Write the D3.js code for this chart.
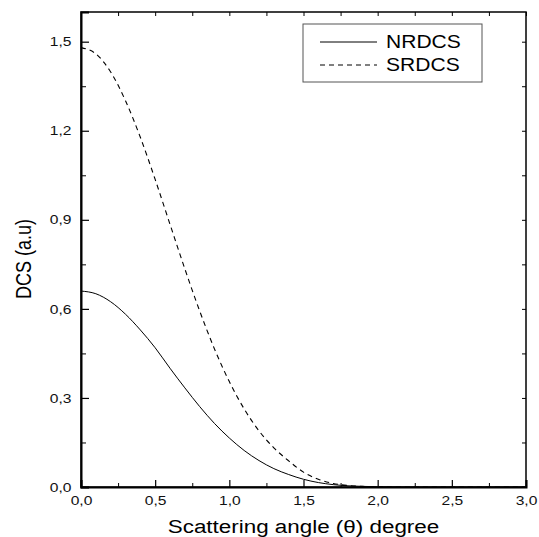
<!DOCTYPE html>
<html>
<head>
<meta charset="utf-8">
<script src="https://cdn.jsdelivr.net/npm/d3@7"></script>
<style>
  body { margin: 0; background: #fff; }
  svg { font-family: "Liberation Sans", Arial, sans-serif; }
</style>
</head>
<body>
<div id="chart"></div>
<script>
// scattering angle (degree)
const angles = [0.0, 0.1, 0.2, 0.3, 0.4, 0.5, 0.6, 0.7, 0.8, 0.9, 1.0,
  1.1, 1.2, 1.3, 1.4, 1.5, 1.6, 1.7, 1.8, 1.9, 2.0,
  2.2, 2.4, 2.6, 2.8, 3.0];
// non relativistic DCS
const nrdcs = [0.660, 0.651, 0.624, 0.582, 0.529, 0.469, 0.400, 0.334, 0.271, 0.214, 0.165,
  0.123, 0.089, 0.062, 0.042, 0.026, 0.015, 0.008, 0.004, 0.002, 0.001,
  0, 0, 0, 0, 0];
// relativistic DCS
const srdcs = [1.480, 1.459, 1.398, 1.301, 1.178, 1.036, 0.885, 0.735, 0.593, 0.465, 0.355,
  0.263, 0.189, 0.132, 0.088, 0.050, 0.026, 0.012, 0.005, 0.002, 0.0005,
  0, 0, 0, 0, 0];
const xTicks = [0, 0.5, 1.0, 1.5, 2.0, 2.5, 3.0];
const yTicks = [0, 0.3, 0.6, 0.9, 1.2, 1.5];
const seriesNames = ["NRDCS", "SRDCS"];

const width = 539, height = 537;
const margin = { top: 12, right: 13, bottom: 50, left: 81 };
const stretch = 1.2; // the original text is a bit wide
const fmt = d => d3.format(".1f")(d).replace(".", ",");

const svg = d3.select("#chart")
  .append("svg")
  .attr("width", width)
  .attr("height", height);

const x = d3.scaleLinear().domain([0, 3]).range([margin.left, width - margin.right]);
const y = d3.scaleLinear().domain([0, 1.6]).range([height - margin.bottom, margin.top]);

// frame (top / right)
svg.append("rect")
  .attr("x", x(0)).attr("y", y(1.6))
  .attr("width", x(3) - x(0)).attr("height", y(0) - y(1.6))
  .attr("fill", "none").attr("stroke", "#000").attr("stroke-width", 1.5);

// minor ticks
const xMinor = d3.range(0.25, 3, 0.5);
const yMinor = d3.range(0.15, 1.6, 0.3);

svg.append("g")
  .attr("transform", `translate(0,${y(0)})`)
  .call(d3.axisBottom(x).tickValues(xMinor).tickSize(-4).tickFormat(""))
  .call(g => g.select(".domain").remove());
svg.append("g")
  .attr("transform", `translate(${x(0)},0)`)
  .call(d3.axisLeft(y).tickValues(yMinor).tickSize(-5).tickFormat(""))
  .call(g => g.select(".domain").remove());

// top and right ticks
svg.append("g")
  .attr("transform", `translate(0,${y(1.6)})`)
  .call(d3.axisTop(x).tickValues(d3.range(0, 3.01, 0.25)).tickSize(-4).tickFormat(""))
  .call(g => g.select(".domain").remove());
svg.append("g")
  .attr("transform", `translate(${x(3)},0)`)
  .call(d3.axisRight(y).tickValues(d3.range(0, 1.61, 0.15)).tickSize(-4).tickFormat(""))
  .call(g => g.select(".domain").remove());

// main axes
const xAxis = svg.append("g")
  .attr("transform", `translate(0,${y(0)})`)
  .call(d3.axisBottom(x).tickValues(xTicks).tickSize(-7).tickPadding(9).tickFormat(fmt));
const yAxis = svg.append("g")
  .attr("transform", `translate(${x(0)},0)`)
  .call(d3.axisLeft(y).tickValues(yTicks).tickSize(-8).tickPadding(8).tickFormat(fmt));

[xAxis, yAxis].forEach(a => {
  a.select(".domain").attr("stroke-width", 2);
  a.selectAll(".tick line").attr("stroke-width", 1.2);
  a.selectAll("text")
    .attr("font-size", 13)
    .attr("fill", "#111")
    .attr("font-family", "Liberation Sans, Arial, sans-serif")
    .attr("transform", `scale(${stretch},1)`);
});

svg.selectAll("g.tick line").attr("stroke", "#000");

// curves
const line = d3.line()
  .x((d, i) => x(angles[i]))
  .y(d => y(d))
  .curve(d3.curveMonotoneX);

svg.append("path")
  .datum(nrdcs)
  .attr("d", line)
  .attr("fill", "none")
  .attr("stroke", "#000")
  .attr("stroke-width", 1);

svg.append("path")
  .datum(srdcs)
  .attr("d", line)
  .attr("fill", "none")
  .attr("stroke", "#000")
  .attr("stroke-width", 1.1)
  .attr("stroke-dasharray", "5,4");

// legend
const legend = svg.append("g");
legend.append("rect")
  .attr("x", 303).attr("y", 24)
  .attr("width", 179).attr("height", 58)
  .attr("fill", "#fff").attr("stroke", "#555").attr("stroke-width", 1);

seriesNames.forEach((name, i) => {
  const ly = 42 + i * 23;
  legend.append("line")
    .attr("x1", 320).attr("x2", 377)
    .attr("y1", ly).attr("y2", ly)
    .attr("stroke", "#000").attr("stroke-width", 1)
    .attr("stroke-dasharray", i === 1 ? "5,4" : null);
  legend.append("text")
    .attr("x", 386 / 1.17).attr("y", ly)
    .attr("dy", "0.36em")
    .attr("font-size", 18)
    .attr("transform", "scale(1.17,1)")
    .text(name);
});

// axis titles
svg.append("text")
  .attr("x", (x(0) + x(3)) / 2 / 1.18)
  .attr("y", 533)
  .attr("text-anchor", "middle")
  .attr("font-size", 19)
  .attr("transform", "scale(1.18,1)")
  .text("Scattering angle (\u03b8) degree");

svg.append("text")
  .attr("transform", `translate(31,259) scale(1.22,1) rotate(-90)`)
  .attr("text-anchor", "middle")
  .attr("font-size", 18)
  .text("DCS (a.u)");
</script>
</body>
</html>
